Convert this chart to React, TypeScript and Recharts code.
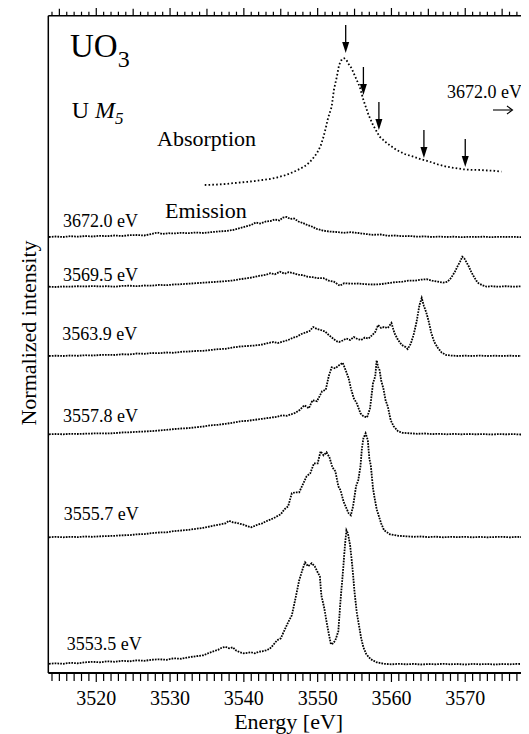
import React from 'react';
import { ComposedChart, Line, XAxis, YAxis, ReferenceDot, Label } from 'recharts';

const FONT = "'Liberation Serif', 'Times New Roman', serif";

// emission spectra, top to bottom, labelled by excitation energy
const excitation = ['3672.0 eV', '3569.5 eV', '3563.9 eV', '3557.8 eV', '3555.7 eV', '3553.5 eV'];
// vertical offset of each spectrum (normalized intensity units)
const offsets = [43.6, 38.63, 31.7, 23.87, 13.57, 0.87];
// where the energy labels sit
const labelE = [3515.5, 3515.5, 3515.4, 3515.5, 3515.6, 3516.0];
const labelY = [44.63, 39.23, 33.3, 25.13, 15.3, 2.3];

const em3672: [number, number][] = [
  [3513.6, 0], [3514.5, 0.05], [3515.5, 0], [3516.5, 0.08], [3517.5, 0.03], [3518.5, 0.1], [3519.5, 0.05],
  [3520.5, 0.12], [3521.5, 0.08], [3522.5, 0.15], [3523.5, 0.1], [3524.5, 0.18], [3525.5, 0.2], [3526.5, 0.15],
  [3527.5, 0.3], [3528.3, 0.45], [3529, 0.3], [3529.8, 0.38], [3530.5, 0.35], [3531.5, 0.42], [3532.5, 0.38],
  [3533.5, 0.45], [3534.5, 0.4], [3535.5, 0.48], [3536.5, 0.55], [3537.5, 0.6], [3538.5, 0.7], [3539.5, 0.9],
  [3540.3, 1.05], [3541, 1.2], [3541.6, 1.45], [3542.2, 1.35], [3543, 1.55], [3543.6, 1.6], [3544.2, 1.75],
  [3544.8, 1.65], [3545.3, 1.95], [3545.8, 2.0], [3546.3, 1.8], [3546.8, 1.85], [3547.4, 1.55], [3548, 1.4],
  [3548.6, 1.2], [3549.2, 1.05], [3549.9, 0.8], [3550.7, 0.65], [3551.5, 0.55], [3552.5, 0.5], [3553.5, 0.42],
  [3554.5, 0.48], [3555.5, 0.4], [3556.5, 0.3], [3557.5, 0.22], [3558.5, 0.25], [3559.5, 0.12], [3560.5, 0.15],
  [3561.5, 0.08], [3562.5, 0.1], [3563.5, 0.03], [3564.5, 0.06], [3565.5, 0], [3566.5, 0.04], [3567.5, 0],
  [3568.5, 0.03], [3569.5, -0.02], [3570.5, 0.02], [3571.5, 0], [3572.5, 0.03], [3573.5, -0.02], [3574.5, 0.02],
  [3575.5, 0], [3576.5, 0.02], [3577.5, -0.02], [3578.6, 0],
];

const em3569: [number, number][] = [
  [3513.6, 0], [3514.5, -0.03], [3515.5, 0.02], [3516.5, 0], [3517.5, 0.05], [3518.5, 0.02], [3519.5, 0.06],
  [3520.5, 0.03], [3521.5, 0.05], [3522.5, 0], [3523.5, 0.08], [3524.5, 0.1], [3525.5, 0.05], [3526.5, 0.12],
  [3527.5, 0.1], [3528.5, 0.18], [3529.5, 0.15], [3530.5, 0.22], [3531.5, 0.25], [3532.5, 0.3], [3533.5, 0.35],
  [3534.5, 0.4], [3535.5, 0.45], [3536.5, 0.5], [3537.5, 0.55], [3538.5, 0.62], [3539.5, 0.75], [3540.5, 0.85],
  [3541.3, 0.95], [3542.2, 1.1], [3543, 1.2], [3543.6, 1.35], [3544.2, 1.25], [3544.9, 1.5], [3545.5, 1.3],
  [3546.1, 1.45], [3546.7, 1.35], [3547.4, 1.2], [3548, 1.15], [3548.6, 1.0], [3549.3, 0.95], [3550, 0.85],
  [3550.8, 0.85], [3551.5, 0.6], [3552.2, 0.5], [3553, 0.1], [3553.6, 0.35], [3554.5, 0.3], [3555.5, 0.32],
  [3556.5, 0.25], [3557.5, 0.22], [3558.5, 0.25], [3559.5, 0.35], [3560.5, 0.45], [3561.5, 0.5], [3562.3, 0.6],
  [3563.2, 0.6], [3564, 0.7], [3564.8, 0.75], [3565.5, 0.6], [3566.3, 0.5], [3567, 0.4], [3567.6, 0.5],
  [3568.1, 0.9], [3568.6, 1.5], [3569, 2.1], [3569.3, 2.5], [3569.6, 3.0], [3569.9, 2.8], [3570.2, 2.4],
  [3570.5, 2.0], [3570.8, 1.5], [3571.1, 1.1], [3571.5, 0.6], [3571.8, 0.35], [3572.3, 0.15], [3572.9, 0],
  [3573.5, 0.05], [3574.5, 0], [3575.5, 0.05], [3576.5, 0], [3577.5, 0.03], [3578.6, 0],
];

const em3563: [number, number][] = [
  [3513.6, 0], [3514.5, 0.03], [3515.5, 0], [3516.5, 0.05], [3517.5, 0.02], [3518.5, 0.08], [3519.5, 0.05],
  [3520.5, 0.1], [3521.5, 0.12], [3522.5, 0.1], [3523.5, 0.18], [3524.5, 0.15], [3525.5, 0.25], [3526.5, 0.22],
  [3527.5, 0.3], [3528.5, 0.28], [3529.5, 0.35], [3530.5, 0.32], [3531.5, 0.42], [3532.5, 0.45], [3533.5, 0.5],
  [3534.5, 0.52], [3535.5, 0.6], [3536.5, 0.68], [3537.5, 0.72], [3538.5, 0.85], [3539.5, 0.95], [3540.5, 1.0],
  [3541.5, 1.05], [3542.5, 1.15], [3543.3, 1.3], [3544, 1.4], [3544.6, 1.3], [3545.3, 1.45], [3546, 1.6],
  [3546.6, 1.8], [3547.2, 1.95], [3547.8, 2.2], [3548.4, 2.35], [3548.9, 2.5], [3549.4, 2.9], [3549.9, 2.7],
  [3550.4, 2.6], [3551, 2.45], [3551.5, 2.1], [3552, 1.8], [3552.5, 1.5], [3552.9, 1.4], [3553.4, 1.55],
  [3553.9, 1.75], [3554.4, 1.6], [3554.9, 1.9], [3555.4, 1.7], [3555.9, 1.6], [3556.4, 1.85], [3556.9, 1.75],
  [3557.4, 2.1], [3557.8, 2.4], [3558.2, 3.1], [3558.6, 2.8], [3559, 2.9], [3559.5, 2.8], [3560, 3.3],
  [3560.4, 2.3], [3560.9, 1.6], [3561.4, 1.1], [3561.9, 0.9], [3562.2, 0.7], [3562.6, 1.2], [3563, 2.1],
  [3563.4, 3.4], [3563.8, 5.1], [3564.1, 5.8], [3564.4, 5.0], [3564.7, 4.4], [3565, 3.6], [3565.4, 2.3],
  [3565.8, 1.4], [3566.3, 0.8], [3566.8, 0.35], [3567.4, 0.1], [3568, 0.05], [3569, 0], [3570, 0.03],
  [3571, 0], [3572, 0.04], [3573, 0], [3574, 0.03], [3575, 0], [3576, 0.03], [3577, 0], [3578.6, 0.02],
];

const em3557: [number, number][] = [
  [3513.6, 0], [3514.5, 0.03], [3515.5, 0], [3516.5, 0.05], [3517.5, 0.03], [3518.5, 0.06], [3519.5, 0.08],
  [3520.5, 0.1], [3521.5, 0.08], [3522.5, 0.12], [3523.5, 0.18], [3524.5, 0.2], [3525.5, 0.25], [3526.5, 0.28],
  [3527.5, 0.32], [3528.5, 0.38], [3529.5, 0.45], [3530.5, 0.52], [3531.5, 0.58], [3532.5, 0.62], [3533.5, 0.7],
  [3534.5, 0.78], [3535.5, 0.9], [3536.5, 0.95], [3537.5, 1.05], [3538.5, 1.15], [3539.5, 1.3], [3540.5, 1.35],
  [3541.5, 1.45], [3542.5, 1.55], [3543.5, 1.65], [3544.5, 1.75], [3545.2, 1.9], [3545.8, 1.85], [3546.4, 2.0],
  [3547, 2.15], [3547.6, 2.45], [3548.2, 2.9], [3548.8, 2.6], [3549.3, 3.4], [3549.9, 3.3], [3550.6, 4.3],
  [3551.1, 4.45], [3551.5, 5.8], [3551.9, 6.7], [3552.4, 6.6], [3552.9, 6.9], [3553.4, 7.15], [3553.8, 6.4],
  [3554.2, 5.6], [3554.5, 4.6], [3554.9, 3.6], [3555.3, 3.1], [3555.8, 2.1], [3556.2, 1.8], [3556.7, 1.7],
  [3557.1, 2.6], [3557.5, 5.1], [3557.8, 5.8], [3558, 7.4], [3558.2, 6.7], [3558.4, 6.4], [3558.6, 5.4],
  [3558.9, 4.6], [3559.2, 3.4], [3559.5, 2.8], [3559.9, 1.4], [3560.3, 0.8], [3560.9, 0.3], [3561.5, 0.15],
  [3562.5, 0.1], [3563.5, 0.05], [3564.5, 0.08], [3565.5, 0.02], [3566.5, 0.05], [3567.5, 0], [3568.5, 0.04],
  [3569.5, 0], [3570.5, 0.03], [3571.5, 0], [3572.5, 0.02], [3573.5, -0.02], [3574.5, 0.02], [3575.5, 0],
  [3576.5, 0.02], [3577.5, -0.02], [3578.6, 0],
];

const em3555: [number, number][] = [
  [3513.6, 0], [3514.5, 0.05], [3515.5, 0], [3516.5, 0.05], [3517.5, 0.02], [3518.5, 0.08], [3519.5, 0.05],
  [3520.5, 0.1], [3521.5, 0.12], [3522.5, 0.15], [3523.5, 0.2], [3524.5, 0.22], [3525.5, 0.3], [3526.5, 0.32],
  [3527.5, 0.42], [3528.5, 0.48], [3529.5, 0.5], [3530.5, 0.62], [3531.5, 0.68], [3532.5, 0.75], [3533.5, 0.85],
  [3534.5, 0.95], [3535.5, 1.1], [3536.5, 1.25], [3537.5, 1.4], [3538, 1.65], [3538.5, 1.5], [3539, 1.45],
  [3539.5, 1.35], [3540, 1.25], [3540.5, 1.1], [3541, 1.0], [3541.5, 1.15], [3542, 1.3], [3542.5, 1.4],
  [3543, 1.6], [3543.5, 1.75], [3544, 1.9], [3544.5, 2.1], [3545, 2.3], [3545.5, 2.8], [3546, 3.1],
  [3546.5, 4.4], [3547, 4.5], [3547.5, 4.5], [3548, 5.3], [3548.5, 6.1], [3549, 6.4], [3549.5, 7.4],
  [3550, 7.4], [3550.4, 8.6], [3550.8, 8.2], [3551.2, 8.5], [3551.6, 8.0], [3552, 7.0], [3552.4, 6.6],
  [3552.8, 5.1], [3553.1, 4.7], [3553.5, 3.6], [3553.9, 2.9], [3554.2, 2.4], [3554.5, 2.2], [3554.8, 3.1],
  [3555.2, 5.1], [3555.5, 5.7], [3555.8, 7.1], [3556, 8.9], [3556.2, 9.9], [3556.5, 10.4], [3556.8, 9.7],
  [3557, 7.9], [3557.2, 7.2], [3557.5, 4.9], [3557.7, 4.0], [3558, 2.8], [3558.3, 2.1], [3558.6, 1.4],
  [3559, 0.7], [3559.8, 0.3], [3561, 0.15], [3562, 0.1], [3563, 0.05], [3564, 0.08], [3565, 0.02],
  [3566, 0.06], [3567, 0], [3568, 0.04], [3569, 0.02], [3570, 0.05], [3571, 0], [3572, 0.04], [3573, 0],
  [3574, 0.03], [3575, 0.05], [3576, 0], [3577, 0.04], [3578.6, 0],
];

const em3553: [number, number][] = [
  [3513.6, 0.05], [3514.5, 0.1], [3515.5, 0.05], [3516.5, 0.15], [3517.5, 0.1], [3518.5, 0.2], [3519.5, 0.25],
  [3520.5, 0.2], [3521.5, 0.3], [3522.5, 0.25], [3523.5, 0.35], [3524.5, 0.3], [3525.5, 0.4], [3526.5, 0.35],
  [3527.5, 0.45], [3528.5, 0.5], [3529.5, 0.45], [3530.5, 0.6], [3531.5, 0.55], [3532.5, 0.7], [3533.5, 0.8],
  [3534.5, 0.9], [3535.5, 1.2], [3536.5, 1.45], [3537, 1.65], [3537.5, 1.75], [3538, 1.6], [3538.5, 1.7],
  [3539, 1.35], [3539.5, 1.2], [3540, 1.1], [3540.5, 1.15], [3541, 1.2], [3541.5, 1.1], [3542, 1.25],
  [3542.5, 1.3], [3543, 1.4], [3543.5, 1.55], [3544, 1.95], [3544.5, 2.4], [3545, 2.6], [3545.5, 3.4],
  [3546, 4.2], [3546.5, 4.9], [3547, 6.6], [3547.5, 8.4], [3548, 9.6], [3548.3, 10.2], [3548.7, 9.8],
  [3549.2, 10.1], [3549.6, 9.8], [3550, 9.2], [3550.3, 8.8], [3550.5, 6.9], [3550.9, 5.6], [3551.2, 4.3],
  [3551.5, 3.1], [3551.8, 2.0], [3552.1, 2.1], [3552.4, 2.4], [3552.8, 3.3], [3553.1, 6.4], [3553.4, 9.0],
  [3553.7, 11.9], [3553.9, 13.4], [3554.1, 13.1], [3554.4, 11.9], [3554.7, 9.8], [3555, 7.2], [3555.3, 5.2],
  [3555.6, 3.9], [3555.9, 2.6], [3556.2, 1.7], [3556.6, 1.0], [3557.2, 0.5], [3558, 0.2], [3559, 0.05],
  [3560, 0], [3561, 0.05], [3562, 0], [3563, 0.04], [3564, -0.02], [3565, 0.03], [3566, 0], [3567, 0.05],
  [3568, 0], [3569, 0.03], [3570, -0.02], [3571, 0.04], [3572, 0], [3573, 0.03], [3574, -0.02], [3575, 0.03],
  [3576, 0], [3577, 0.04], [3578.6, 0],
];

const spectra = [em3672, em3569, em3563, em3557, em3555, em3553];

// U M5 absorption edge (relative to its own baseline)
const absOffset = 48.8;
const absorption: [number, number][] = [
  [3534.7, 0], [3535.5, 0.02], [3536.5, 0.05], [3537.5, 0.1], [3538.5, 0.18], [3539.5, 0.25], [3540.5, 0.32],
  [3541.5, 0.4], [3542.5, 0.5], [3543.5, 0.6], [3544.5, 0.75], [3545.5, 0.95], [3546.3, 1.17], [3547, 1.4],
  [3547.7, 1.65], [3548.5, 2.0], [3549.2, 2.5], [3549.9, 3.17], [3550.4, 3.9], [3550.8, 4.83], [3551.1, 5.7],
  [3551.4, 6.67], [3551.9, 7.83], [3552.2, 9.5], [3552.6, 10.83], [3552.9, 12.0], [3553.3, 12.6], [3553.6, 12.67],
  [3553.9, 12.5], [3554.2, 12.1], [3554.6, 11.67], [3555.1, 10.83], [3555.7, 9.83], [3556.2, 8.5], [3556.9, 7.0],
  [3557.5, 6.0], [3558.4, 4.83], [3559.4, 4.17], [3560.7, 3.5], [3561.8, 3.1], [3563, 2.83], [3564.1, 2.55],
  [3565.2, 2.33], [3566.3, 2.05], [3567.5, 1.83], [3568.6, 1.7], [3569.7, 1.57], [3570.8, 1.52], [3572, 1.5],
  [3573, 1.45], [3574, 1.42], [3574.9, 1.33],
];

// arrows marking the excitation energies on the absorption curve
const arrowE = [3553.8, 3556.2, 3558.3, 3564.4, 3570.0];
const arrowTip = [62.0, 57.8, 54.3, 51.5, 50.6];

const tickLabels = [3520, 3530, 3540, 3550, 3560, 3570];
const minorTicks = Array.from({ length: 65 }, (_, i) => 3514 + i);

const X_DOMAIN: [number, number] = [3513.5, 3578.64];
const Y_DOMAIN: [number, number] = [0, 65.73];

const BottomTick = ({ x, y, payload }: any) => {
  const v = payload.value;
  const major = tickLabels.includes(v);
  return (
    <g>
      <line x1={x} y1={y} x2={x} y2={y + (major ? 9 : 8)} stroke="#000" strokeWidth={1.2} />
      {major && (
        <text x={x} y={y + 32} textAnchor="middle" fontSize={20} style={{ fontFamily: FONT }} fill="#000">
          {v}
        </text>
      )}
    </g>
  );
};

const TopTick = ({ x, y, payload }: any) => {
  const v = payload.value;
  const len = v % 10 === 0 ? 9 : v % 5 === 0 ? 7 : 4;
  return <line x1={x} y1={y} x2={x} y2={y - len} stroke="#000" strokeWidth={1.2} />;
};

const note = (key: string, e: number, v: number, node: React.ReactNode) => (
  <ReferenceDot
    key={key}
    x={e}
    y={v}
    r={0}
    ifOverflow="visible"
    shape={(p: any) => <g transform={`translate(${p.cx},${p.cy})`}>{node}</g>}
  />
);

const txt = { style: { fontFamily: FONT }, fill: '#000' };

export default function App() {
  return (
    <div style={{ marginLeft: -8, marginTop: -8, width: 529, height: 734, background: '#fff' }}>
      <ComposedChart width={529} height={734} margin={{ top: 0, right: 0, bottom: 0, left: 0 }}>
        <XAxis
          xAxisId={0}
          type="number"
          dataKey="e"
          domain={X_DOMAIN}
          allowDataOverflow
          ticks={minorTicks}
          interval={0}
          height={61}
          tickSize={0}
          tickMargin={0}
          tickLine={false}
          tick={BottomTick}
          axisLine={{ stroke: '#000', strokeWidth: 2 }}
        >
          <Label
            content={({ viewBox }: any) => (
              <text x={viewBox.x + viewBox.width / 2} y={viewBox.y + 56} textAnchor="middle" fontSize={22} {...txt}>
                Energy [eV]
              </text>
            )}
          />
        </XAxis>
        <XAxis
          xAxisId="top"
          orientation="top"
          type="number"
          dataKey="e"
          domain={X_DOMAIN}
          allowDataOverflow
          ticks={minorTicks}
          interval={0}
          height={15.7}
          tickSize={0}
          tickMargin={0}
          tickLine={false}
          tick={TopTick}
          axisLine={{ stroke: '#000', strokeWidth: 1.5 }}
        />
        <YAxis
          type="number"
          domain={Y_DOMAIN}
          allowDataOverflow
          width={48.3}
          tick={false}
          tickLine={false}
          axisLine={{ stroke: '#000', strokeWidth: 1.5 }}
        >
          <Label
            content={() => (
              <text x={35.5} y={333} transform="rotate(-90 35.5 333)" textAnchor="middle" fontSize={22} {...txt}>
                Normalized intensity
              </text>
            )}
          />
        </YAxis>

        <Line
          data={absorption.map(([e, v]) => ({ e, y: v + absOffset }))}
          dataKey="y"
          type="linear"
          stroke="#000"
          strokeWidth={1.8}
          strokeDasharray="1.6 2.2"
          dot={false}
          activeDot={false}
          isAnimationActive={false}
        />
        {spectra.map((s, i) => (
          <Line
            key={excitation[i]}
            data={s.map(([e, v]) => ({ e, y: v + offsets[i] }))}
            dataKey="y"
            type="linear"
            stroke="#000"
            strokeWidth={1.8}
            strokeDasharray="1.7 1.1"
            dot={false}
            activeDot={false}
            isAnimationActive={false}
          />
        ))}

        {arrowE.map((e, i) =>
          note(`arrow-${i}`, e, arrowTip[i], (
            <g>
              <line x1={0} y1={-28} x2={0} y2={-6} stroke="#000" strokeWidth={1.3} />
              <polygon points="-3.5,-11 3.5,-11 0,0" fill="#000" />
            </g>
          ))
        )}

        {excitation.map((lab, i) =>
          note(`lab-${i}`, labelE[i], labelY[i], (
            <text x={0} y={0} fontSize={18} {...txt}>{lab}</text>
          ))
        )}

        {note('uo3', 3516.44, 61.6, (
          <text x={0} y={0} fontSize={33} {...txt}>
            UO<tspan fontSize={24} dy={10}>3</tspan>
          </text>
        ))}
        {note('um5', 3516.67, 55.5, (
          <text x={0} y={0} fontSize={24} {...txt}>
            U <tspan fontStyle="italic">M</tspan>
            <tspan fontStyle="italic" fontSize={17} dy={6}>5</tspan>
          </text>
        ))}
        {note('abs', 3528.23, 52.7, (
          <text x={0} y={0} fontSize={22} {...txt}>Absorption</text>
        ))}
        {note('emi', 3529.31, 45.5, (
          <text x={0} y={0} fontSize={22} {...txt}>Emission</text>
        ))}
        {note('off', 3567.52, 57.5, (
          <text x={0} y={0} fontSize={18} {...txt}>3672.0 eV</text>
        ))}
        {note('offArrow', 3573.76, 56.3, (
          <g stroke="#000" strokeWidth={1.1} fill="none">
            <line x1={0} y1={0} x2={19} y2={0} />
            <polyline points="14,-4 19.5,0 14,4" />
          </g>
        ))}
      </ComposedChart>
    </div>
  );
}
